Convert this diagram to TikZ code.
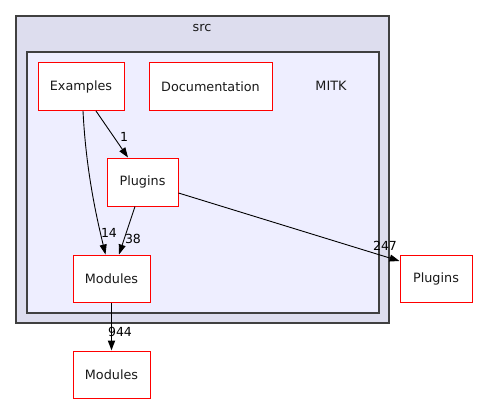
\documentclass[tikz,border=0pt]{standalone}
\usepackage{fontspec}
\setmainfont{DejaVu Sans}
\usetikzlibrary{arrows.meta}
\definecolor{srcfill}{HTML}{DDDDEE}
\definecolor{mitkfill}{HTML}{EEEEFF}
\definecolor{frame}{HTML}{404040}
\definecolor{txt}{HTML}{1A1A1A}
\begin{document}
\begin{tikzpicture}[x=1pt,y=-1pt,
  dirbox/.style={draw=red, fill=white, line width=1pt, minimum height=48pt, inner sep=0pt,
    font=\fontsize{12.8}{14}\selectfont, text=txt},
  elabel/.style={font=\fontsize{12.5}{14}\selectfont, text=black, inner sep=0pt},
  dep/.style={draw=black, line width=0.9pt, -{Triangle[length=10pt,width=7pt]}},
  cluster/.style={draw=frame, line width=1.2pt}]
\useasboundingbox (0,0) rectangle (477,404);
\draw[cluster, fill=srcfill] (16,16) rectangle (389,323);
\node[font=\fontsize{12.8}{14}\selectfont, text=txt] (srclabel) at (202,28) {src};
\draw[cluster, fill=mitkfill] (27,52) rectangle (379,313);
\node[font=\fontsize{12.8}{14}\selectfont, text=txt] (mitklabel) at (331,86) {MITK};

\node[dirbox, minimum width=86pt] (ex) at (81,86.5) {Examples};
\node[dirbox, minimum width=123pt] (doc) at (210.5,86.5) {Documentation};
\node[dirbox, minimum width=71pt] (pl) at (142.5,182) {Plugins};
\node[dirbox, minimum width=77pt, minimum height=47pt] (mod) at (111.5,278.5) {Modules};
\node[dirbox, minimum width=72pt, minimum height=47pt] (opl) at (436,278.5) {Plugins};
\node[dirbox, minimum width=77pt, minimum height=47pt] (omod) at (111.5,374.5) {Modules};

\draw[dep] ([xshift=2pt]ex.south) .. controls (86,170) and (96,215) .. ([xshift=-6pt]mod.north);
\draw[dep] ([xshift=15pt]ex.south) -- ([xshift=-14.5pt]pl.north);
\draw[dep] ([xshift=-7.5pt]pl.south) -- ([xshift=7.5pt]mod.north);
\draw[dep] ([yshift=-11pt]pl.east) -- ([yshift=17.5pt]opl.west);
\draw[dep, line width=1.8pt] (mod.south) -- (omod.north);

\node[elabel] (l14) at (109,233) {14};
\node[elabel] (l1) at (124,137) {1};
\node[elabel] (l38) at (133,239) {38};
\node[elabel] (l247) at (385,246) {247};
\node[elabel] (l944) at (120,332) {944};
\end{tikzpicture}
\end{document}
